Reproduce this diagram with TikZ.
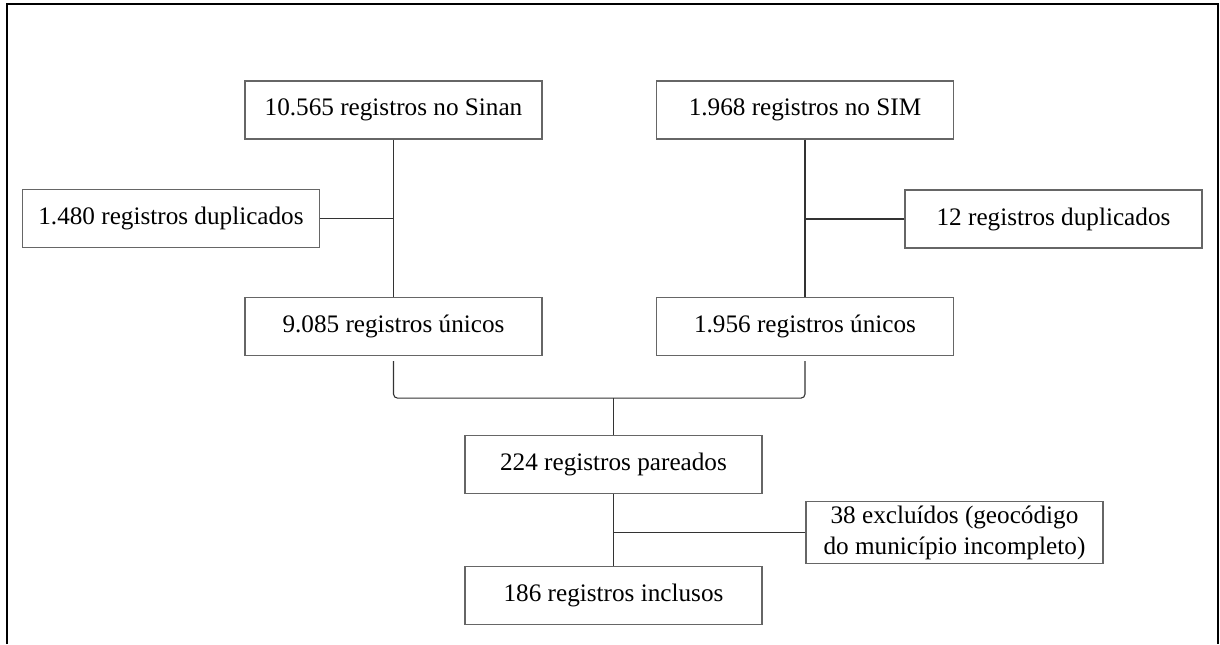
\documentclass[tikz,border=0pt]{standalone}
\usepackage{fontspec}
\setmainfont{Liberation Serif}
\usepackage{tikz}
\usetikzlibrary{positioning, calc}

\begin{document}
\begin{tikzpicture}[
    x=0.5pt, y=-0.5pt,
    frame line/.style={black, line width=1.2pt},
    link/.style={black!80, line width=0.55pt},
    box/.style={draw=black!60, line width=0.6pt, minimum width=148.5pt,
        minimum height=29pt, inner sep=2pt, align=center,
        font=\fontsize{12.6}{15.5}\selectfont}
]

\useasboundingbox (0,0) rectangle (1220,644);

% --- 1. Outer frame (open at the bottom) ---
\draw[frame line] (7,644) -- (7,4) -- (1218,4) -- (1218,644);

% --- 2. Sources ---
\node[box] (sinan) at (393.5,110) {10.565 registros no Sinan};
\node[box] (sim)   at (805,110)   {1.968 registros no SIM};

% duplicates on the sides
\node[box] (dupSinan) at (171,218.5)  {1.480 registros duplicados};
\node[box] (dupSim)   at (1053.5,219) {12 registros duplicados};

% unique records
\node[box] (uniSinan) at (393.5,326.5) {9.085 registros únicos};
\node[box] (uniSim)   at (805,326.5)   {1.956 registros únicos};

% --- 3. Linkage ---
\node[box] (pareados)  at (613.5,464.5) {224 registros pareados};
\node[box] (excluidos) at (954.5,532.5) {38 excluídos (geocódigo\\do município incompleto)};
\node[box] (inclusos)  at (613.5,595.5) {186 registros inclusos};

% --- 4. Connectors ---
\draw[link] (sinan.south) -- (uniSinan.north);
\draw[link] (dupSinan.east) -- (dupSinan.east -| sinan.south);

\draw[link] (sim.south) -- (uniSim.north);
\draw[link] (dupSim.west) -- (dupSim.west -| sim.south);

% bracket joining both unique sets
\coordinate (brkL) at ($(uniSinan.south)+(0,5)$);
\coordinate (brkR) at ($(uniSim.south)+(0,5)$);
\coordinate (brkB) at ($(brkL)+(0,37)$);
\draw[link, rounded corners=2pt] (brkL) -- (brkB) -- (brkB -| brkR) -- (brkR);
\draw[link] (pareados.north) -- (pareados.north |- brkB);

\draw[link] (pareados.south) -- (inclusos.north);
\draw[link] (excluidos.west) -- (excluidos.west -| pareados.south);

\end{tikzpicture}
\end{document}
